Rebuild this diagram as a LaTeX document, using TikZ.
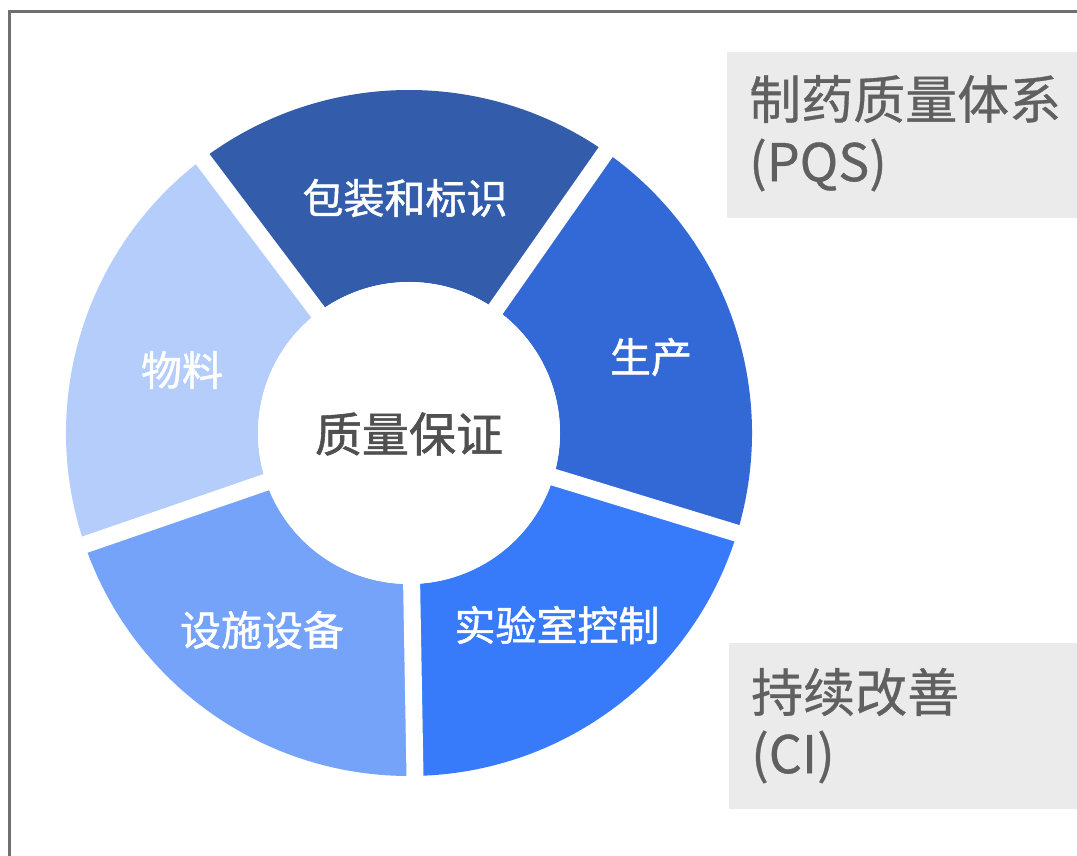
\documentclass[tikz,border=0pt]{standalone}
\usepackage{fontspec}
\setmainfont{Noto Sans CJK SC}
\newfontfamily\cjkmed[FakeBold=1.2]{Noto Sans CJK SC}
\newfontfamily\cjklight[FakeBold=0.6]{Noto Sans CJK SC}
\definecolor{cPack}{HTML}{335DAB}
\definecolor{cProd}{HTML}{3369D6}
\definecolor{cLab}{HTML}{377BFA}
\definecolor{cFac}{HTML}{76A3FA}
\definecolor{cMat}{HTML}{B4CDFB}
\definecolor{boxgray}{HTML}{EBEBEB}
\definecolor{framegray}{HTML}{707070}
\definecolor{txtgray}{HTML}{606060}
\definecolor{ctrgray}{HTML}{505050}
\newcommand\annseg[3]{\fill[#3] (#1:151) arc[start angle=#1,end angle=#2,radius=151] -- (#2:343) arc[start angle=#2,end angle=#1,radius=343] -- cycle;}
\begin{document}
\begin{tikzpicture}[x=1pt,y=1pt,
  wlabel/.style={text=white,font=\cjkmed\fontsize{41}{48}\selectfont,inner sep=0pt},
  ctrlabel/.style={text=ctrgray,font=\cjkmed\fontsize{47}{56}\selectfont,inner sep=0pt},
  boxtext/.style={text=txtgray,font=\cjklight\fontsize{52}{62}\selectfont,inner sep=0pt,anchor=west},
  gapline/.style={white,line width=17pt},
  graybox/.style={fill=boxgray,draw=none}]
\useasboundingbox (0,0) rectangle (1077,855);
\fill[white] (0,0) rectangle (1077,855);
\draw[framegray,line width=2.5pt] (9.5,-5) -- (9.5,843.5) -- (1090,843.5);
% gray boxes
\fill[graybox] (727,637) rectangle (1080,803);
\fill[graybox] (729,46) rectangle (1080,212);
% donut
\begin{scope}[shift={(409,422)}]
  \annseg{55}{127}{cPack}
  \annseg{127}{199}{cMat}
  \annseg{199}{271}{cFac}
  \annseg{271}{343}{cLab}
  \annseg{343}{415}{cProd}
  \foreach \a in {55,127,199,271,343}
    \draw[gapline] (0,0) -- (\a:360);
  \fill[white] (0,0) circle (151);
\end{scope}
% labels
\node[wlabel] (pack) at (405,657) {包装和标识};
\node[wlabel] (prod) at (651,498) {生产};
\node[wlabel] (lab) at (557,230) {实验室控制};
\node[wlabel] (fac) at (262,225) {设施设备};
\node[wlabel] (mat) at (182,485) {物料};
\node[ctrlabel] (qa) at (409,421) {质量保证};
% box texts
\node[boxtext] (pqs1) at (749,756) {制药质量体系};
\node[boxtext] (pqs2) at (749,690) {(PQS)};
\node[boxtext] (ci1) at (751,163) {持续改善};
\node[boxtext] (ci2) at (751,98) {(CI)};
\end{tikzpicture}
\end{document}
